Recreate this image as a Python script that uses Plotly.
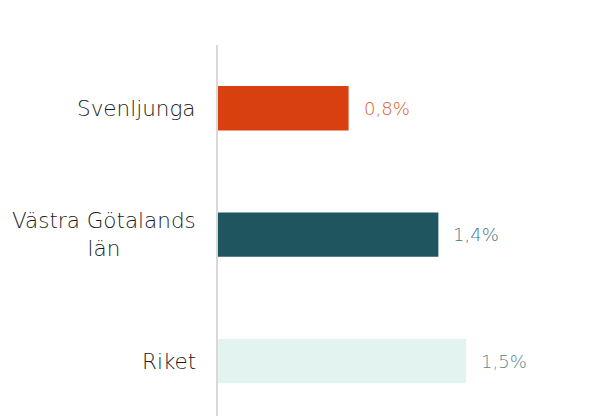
import plotly.graph_objects as go

categories = ["Svenljunga", "Västra Götalands<br>län", "Riket"]
values = [0.80, 1.35, 1.52]
bar_colors = ["#d9400f", "#1f555f", "#e3f3ef"]
label_colors = ["#dc5a2c", "#46777b", "#528a8f"]

FONT = "DejaVu Sans"

fig = go.Figure()
fig.add_trace(go.Bar(
    x=values, y=categories, orientation="h",
    marker=dict(color=bar_colors, line=dict(width=0)),
    width=0.35, hoverinfo="skip",
))

for c, v, col in zip(categories, values, label_colors):
    fig.add_annotation(
        x=v, y=c, xref="x", yref="y", xanchor="left", yanchor="middle",
        text=f"{v:.1f}%".replace(".", ","), showarrow=False, xshift=13,
        font=dict(family=FONT, size=18, color=col, weight=200),
    )
    fig.add_annotation(
        x=0, y=c, xref="paper", yref="y", xanchor="right", yanchor="middle",
        text=c, showarrow=False, xshift=-20, align="center",
        font=dict(family=FONT, size=21.5, color="#1a1a1a", weight=200),
    )

fig.update_layout(
    width=616, height=416,
    margin=dict(l=218, r=16, t=45, b=0),
    paper_bgcolor="white", plot_bgcolor="white",
    showlegend=False,
    xaxis=dict(range=[0, 2.34], visible=False, fixedrange=True),
    yaxis=dict(
        categoryorder="array", categoryarray=categories,
        autorange=False, fixedrange=True,
        showticklabels=False, showgrid=False, zeroline=False,
        showline=True, linecolor="#d9d9d9", linewidth=2,
        ticks="",
    ),
)
fig.update_yaxes(range=[2.433, -0.5])

fig.write_html("out.html", config={"displayModeBar": False},
               post_script="document.body.style.margin='0';")
